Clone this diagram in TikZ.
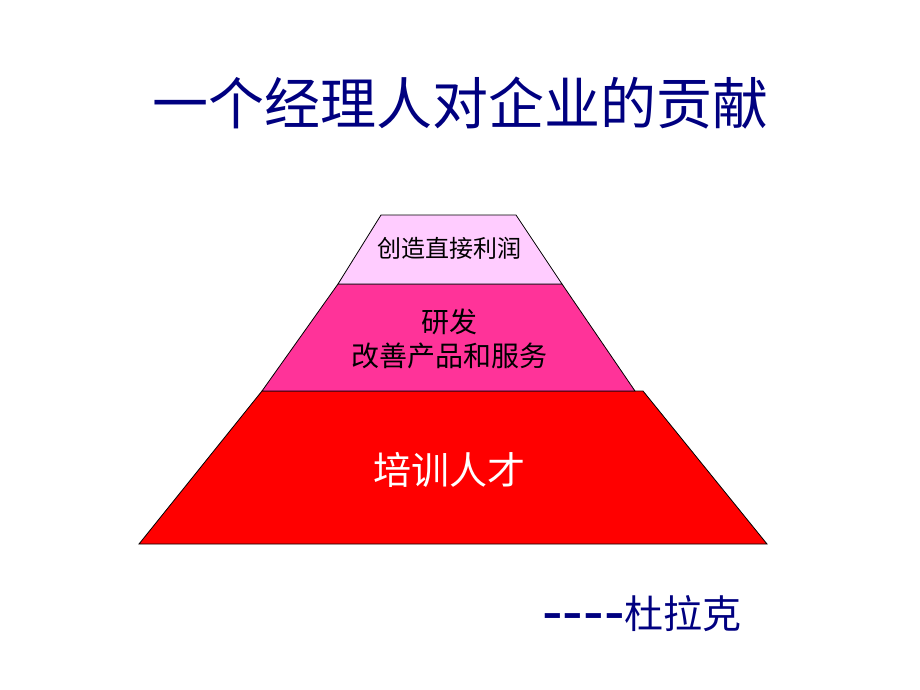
\documentclass[tikz,border=0pt]{standalone}
\usepackage{fontspec}
\setmainfont{Noto Sans CJK SC}
\newfontfamily\cjk{Noto Sans CJK SC}
\newfontfamily\dashfont{Liberation Sans}
\definecolor{titleblue}{RGB}{0,0,128}
\definecolor{toppink}{RGB}{255,204,255}
\definecolor{midpink}{RGB}{255,51,153}
\definecolor{basered}{RGB}{255,0,0}
\begin{document}
\begin{tikzpicture}[x=1pt,y=-1pt,
  layer/.style={draw=black,line width=0.8pt,line join=miter},
  lbl/.style={inner sep=0pt,align=center,font=\cjk}]
\useasboundingbox (0,0) rectangle (920,690);
% pyramid
\draw[layer,fill=basered] (262,391) -- (643,391) -- (767,544) -- (139,544) -- cycle;
\draw[layer,fill=midpink] (338,284) -- (562,284) -- (635,391) -- (262,391) -- cycle;
\draw[layer,fill=toppink] (381,215) -- (516,215) -- (562,284) -- (338,284) -- cycle;
% labels
\node[lbl,font=\cjk\fontsize{56}{60}\selectfont,text=titleblue] (title) at (460,103) {一个经理人对企业的贡献};
\node[lbl,font=\cjk\fontsize{24}{28}\selectfont] (top) at (449,248) {创造直接利润};
\node[lbl,font=\cjk\fontsize{28}{34}\selectfont] (mid) at (449,339) {研发\\改善产品和服务};
\node[lbl,font=\cjk\fontsize{38}{44}\selectfont,text=titleblue] (base) at (449,470) {\color{white}培训人才};
\node[lbl,anchor=east,font=\cjk\fontsize{39}{44}\selectfont,text=titleblue] (sig) at (742,614) {\raisebox{-4pt}{\dashfont\fontsize{62}{66}\selectfont ----}杜拉克};
\end{tikzpicture}
\end{document}
